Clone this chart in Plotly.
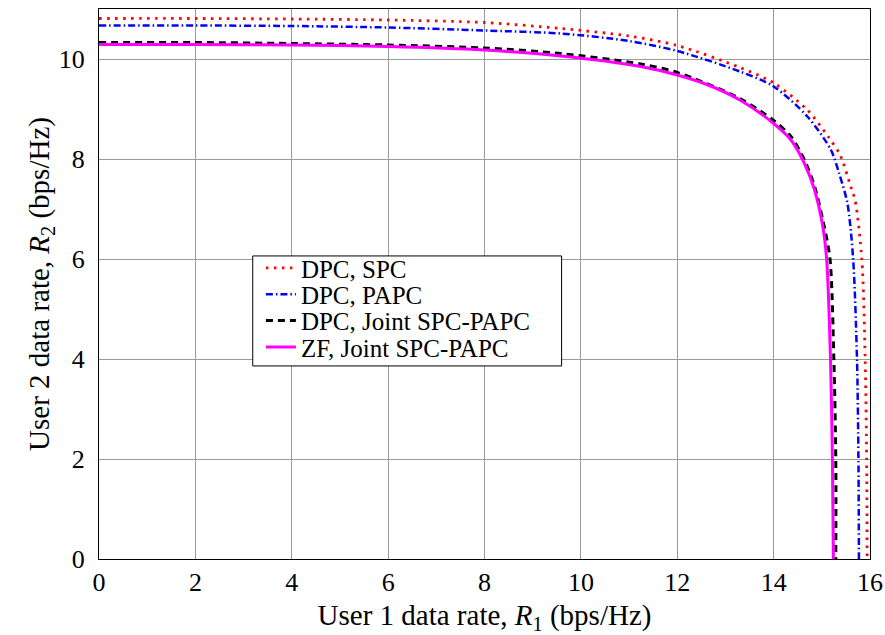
import plotly.graph_objects as go

# ---- data ----
dpc_spc_x = [0, 2, 4, 6, 8, 9.58, 11, 12, 13.3, 14, 14.7, 15.13, 15.38, 15.6, 15.69, 15.83, 15.9, 15.93, 15.94]
dpc_spc_y = [10.81, 10.81, 10.8, 10.78, 10.73, 10.61, 10.46, 10.27, 9.83, 9.52, 8.98, 8.45, 8.08, 7.45, 7.18, 6.0, 4.0, 2.0, 0.0]

dpc_papc_x = [0, 2, 4, 6, 8, 9.58, 11, 12, 13.3, 14, 14.7, 15.19, 15.36, 15.53, 15.65, 15.73, 15.76, 15.77]
dpc_papc_y = [10.67, 10.67, 10.66, 10.63, 10.57, 10.51, 10.36, 10.16, 9.75, 9.45, 8.85, 8.18, 7.71, 7.12, 6.0, 4.0, 2.0, 0.0]

dpc_joint_x = [0, 2, 4, 6, 8, 9.58, 11.24, 12, 13.3, 14, 14.36, 14.64, 14.85, 15.05, 15.17, 15.25, 15.29, 15.29]
dpc_joint_y = [10.33, 10.33, 10.31, 10.28, 10.22, 10.11, 9.9, 9.73, 9.21, 8.77, 8.45, 7.98, 7.45, 6.65, 6.0, 4.0, 2.0, 0.0]

zf_joint_x = [0, 2, 4, 6, 8, 9.58, 11.24, 12, 12.64, 13.3, 14, 14.36, 14.64, 14.85, 15.02, 15.1, 15.18, 15.22, 15.24]
zf_joint_y = [10.29, 10.29, 10.28, 10.25, 10.18, 10.06, 9.85, 9.68, 9.48, 9.18, 8.71, 8.38, 7.91, 7.38, 6.65, 6.0, 4.0, 2.0, 0.0]

series_names = ["DPC, SPC", "DPC, PAPC", "DPC, Joint SPC-PAPC", "ZF, Joint SPC-PAPC"]

x_ticks = [0, 2, 4, 6, 8, 10, 12, 14, 16]
y_ticks = [0, 2, 4, 6, 8, 10]

FONT = "Liberation Serif"

fig = go.Figure()
styles = [
    dict(color="red", width=2.8, dash="2.5px,5.5px"),
    dict(color="blue", width=2.5, dash="7px,3px,1.5px,3px"),
    dict(color="black", width=3, dash="7px,5px"),
    dict(color="magenta", width=3),
]
xs = [dpc_spc_x, dpc_papc_x, dpc_joint_x, zf_joint_x]
ys = [dpc_spc_y, dpc_papc_y, dpc_joint_y, zf_joint_y]
legend_ids = ["legend", "legend2", "legend3", "legend4"]
for i in range(4):
    fig.add_trace(go.Scatter(x=xs[i], y=ys[i], mode="lines", name=series_names[i],
                             legend=legend_ids[i],
                             line=dict(shape="spline", smoothing=0.8, **styles[i])))

axis_common = dict(showgrid=True, gridcolor="#9a9a9a", gridwidth=1, showline=True, linecolor="black",
                   linewidth=1.3, mirror=True, zeroline=False,
                   tickfont=dict(family=FONT, size=26, color="black"))

# legend frame (white, framed) behind the legend entries
fig.add_shape(type="rect", xref="paper", yref="paper", x0=0.1994, x1=0.60, y0=0.351, y1=0.551,
              fillcolor="white", line=dict(color="black", width=1), layer="above")

legend_common = dict(x=0.21, xanchor="left", yanchor="middle", bgcolor="rgba(0,0,0,0)",
                     borderwidth=0, font=dict(family=FONT, size=25, color="black"),
                     itemwidth=30)
row_y = [0.529, 0.481, 0.433, 0.385]

fig.update_layout(
    width=885, height=635,
    margin=dict(l=99, r=15, t=9, b=76, autoexpand=False),
    paper_bgcolor="white", plot_bgcolor="white",
    font=dict(family=FONT, color="black"),
    xaxis=dict(range=[0, 16], tickvals=x_ticks, ticks="", automargin=False,
               title=dict(text="User 1 data rate, <i>R</i><sub>1</sub> (bps/Hz)",
                          font=dict(family=FONT, size=29), standoff=10),
               **axis_common),
    yaxis=dict(range=[0, 11], tickvals=y_ticks, ticks="outside", ticklen=8,
               tickcolor="rgba(0,0,0,0)", automargin=False,
               title=dict(text="User 2 data rate, <i>R</i><sub>2</sub> (bps/Hz)",
                          font=dict(family=FONT, size=29), standoff=0),
               **axis_common),
    legend=dict(y=row_y[0], **legend_common),
    legend2=dict(y=row_y[1], **legend_common),
    legend3=dict(y=row_y[2], **legend_common),
    legend4=dict(y=row_y[3], **legend_common),
    showlegend=True,
)

fig.write_html("out.html")
